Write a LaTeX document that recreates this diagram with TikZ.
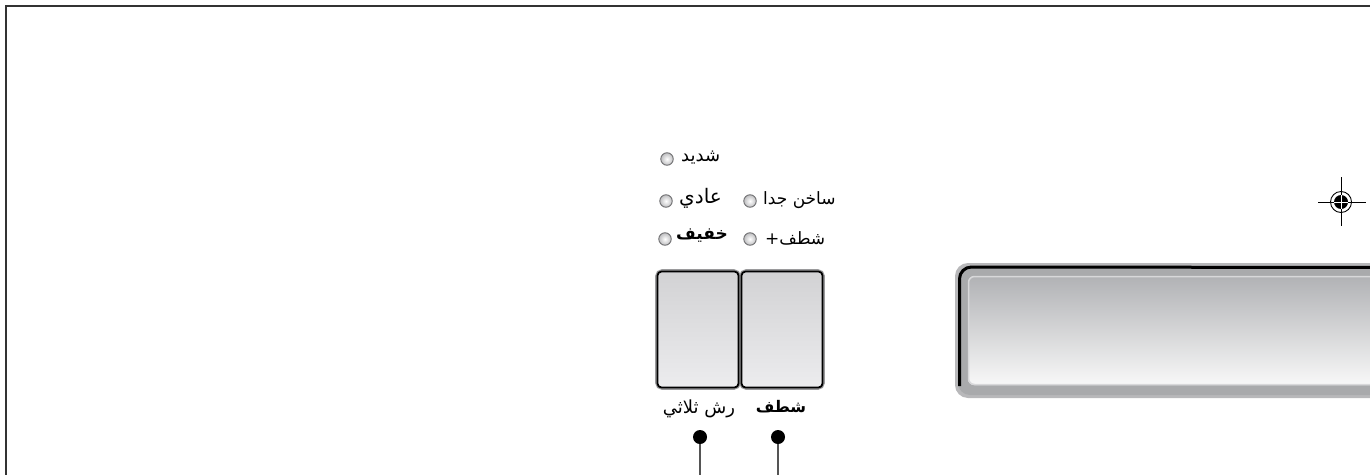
\documentclass[tikz,border=0pt]{standalone}
\usepackage{fontspec}
\newfontfamily\arabicfont[Script=Arabic]{DejaVu Sans}
\TeXXeTstate=1
\definecolor{frameline}{HTML}{333333}
\definecolor{btntop}{HTML}{D2D2D4}
\definecolor{btnbot}{HTML}{ECECEE}
\definecolor{halo}{HTML}{9A9A9C}
\definecolor{ledfill}{HTML}{BEBEC0}
\definecolor{ledline}{HTML}{6E6E70}
\definecolor{dispouter}{HTML}{A9AAAC}
\definecolor{disptop}{HTML}{B1B2B5}
\definecolor{dispbot}{HTML}{F8F8F8}
\definecolor{dispedge}{HTML}{D8D8DA}
\definecolor{stem}{HTML}{555555}
\tikzset{
  lbl/.style={font=\arabicfont\fontsize{18}{18}\selectfont, inner sep=0pt, anchor=west},
  lblbig/.style={font=\arabicfont\fontsize{18}{18}\selectfont, inner sep=0pt},
  led/.style={circle, draw=ledline, line width=0.9pt, inner color=white, outer color=ledfill, minimum size=12.5pt, inner sep=0pt},
  btnbox/.style={draw=black, line width=1.8pt, rounded corners=4pt, top color=btntop, bottom color=btnbot, inner sep=0pt},
  dotnode/.style={circle, fill=black, minimum size=14pt, inner sep=0pt},
  stemline/.style={draw=stem, line width=1.4pt}
}
\begin{document}
\begin{tikzpicture}[x=1pt,y=-1pt]
\useasboundingbox (0,0) rectangle (1370,474);
\clip (0,0) rectangle (1370,474);
\fill[white] (0,0) rectangle (1370,474);
% frame
\draw[frameline, line width=2pt] (5.5,480) -- (5.5,5.5) -- (1380,5.5);

% LEDs and labels
\node[led] (l1) at (667,159) {};
\node[lbl] (t1) at (681,158) {\beginR شديد\endR};
\node[led] (l2) at (666,201) {};
\node[lbl, font=\arabicfont\fontsize{20}{20}\selectfont] (t2) at (679,198) {\beginR عادي\endR};
\node[led] (l3) at (665,239) {};
\node[lbl, font=\arabicfont\bfseries\fontsize{17}{17}\selectfont] (t3) at (676,236) {\beginR خفيف\endR};
\node[led] (l4) at (750,201) {};
\node[lbl, font=\arabicfont\fontsize{17}{17}\selectfont] (t4) at (763,200) {\beginR ساخن جدا\endR};
\node[led] (l5) at (750,239) {};
\node[lbl, font=\arabicfont\fontsize{17}{17}\selectfont] (t5) at (765,238) {\beginR شطف+\endR};

% buttons
\draw[halo, line width=3.6pt, rounded corners=5pt] (657,271) rectangle (739,388);
\draw[halo, line width=3.6pt, rounded corners=5pt] (741,271) rectangle (823,388);
\node[btnbox, minimum width=81pt, minimum height=116pt] (b1) at (698,329.5) {};
\node[btnbox, minimum width=81pt, minimum height=116pt] (b2) at (782,329.5) {};

\node[lblbig] (bl1) at (699,409) {\beginR رش ثلاثي\endR};
\node[lblbig, font=\arabicfont\bfseries\fontsize{16}{16}\selectfont] (bl2) at (781,407) {\beginR شطف\endR};

% dots and stems
\node[dotnode] (d1) at (700,437) {};
\node[dotnode] (d2) at (778,437) {};
\coordinate (e1) at (700,480);
\coordinate (e2) at (778,480);
\draw[stemline] (d1) -- (e1);
\draw[stemline] (d2) -- (e2);

% display
\fill[halo!70] (955,263) [rounded corners=13pt] rectangle (1420,398);
\fill[dispouter] (958,266) [rounded corners=12pt] rectangle (1420,395);
\shade[top color=disptop, bottom color=dispbot, rounded corners=6pt] (968,276) rectangle (1420,385);
\draw[dispedge, line width=1.5pt, rounded corners=6pt] (968.5,276.5) rectangle (1420,384.5);
\draw[black, line width=3pt] (959.5,386) -- (959.5,279) arc[start angle=180, end angle=270, radius=12] -- (1420,267.5);

% registration mark
\node[circle, draw=black, line width=0.9pt, minimum size=21pt, inner sep=0pt] (reg) at (1341,202) {};
\fill[black] (reg.center) circle[radius=7];
\draw[black, line width=0.9pt] (1318,202) -- (1366,202);
\draw[black, line width=0.9pt] (1341,177) -- (1341,226);
\draw[white, line width=0.6pt] (1334,202) -- (1348,202) (1341,195) -- (1341,209);
\end{tikzpicture}
\end{document}
